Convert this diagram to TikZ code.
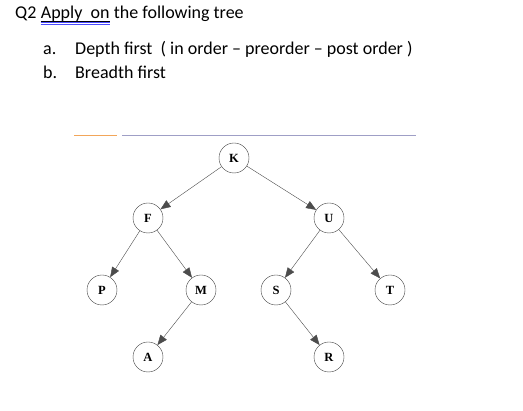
\documentclass[tikz,border=0pt]{standalone}
\usepackage{fontspec}
\setmainfont{Carlito}
\newfontfamily\treefont{Liberation Serif}
\usetikzlibrary{positioning}
\usetikzlibrary{arrows.meta}
\tikzset{
    mynode/.style = {circle, draw=black!75, thin, minimum size=30pt, inner sep=0pt, fill=white, font=\treefont\bfseries\fontsize{12.5}{13}\selectfont},
    edgen/.style = {-{Triangle[length=10pt,width=8pt]}, black!70, thin},
    qtext/.style = {anchor=base west, inner sep=0pt, font=\fontsize{18}{21}\selectfont},
    rulegray/.style = {draw=blue!25!gray!60, line width=0.8pt},
    ruleorange/.style = {draw=orange!70!brown!70, line width=0.8pt}
}

\begin{document}
\begin{tikzpicture}[x=1pt,y=-1pt]
\useasboundingbox (0,0) rectangle (523,411);
%
\node[qtext] at (15,19) (q2) {Q2};
\node[qtext, right=4pt of q2.base east, anchor=base west] (apply) {Apply\ \ on};
\node[qtext, right=4pt of apply.base east, anchor=base west] (rest) {the following tree};
\draw[black, line width=0.6pt] ([yshift=-2pt]apply.base west) -- ([yshift=-2pt]apply.base east);
\draw[blue!70, line width=0.5pt] ([yshift=-3.5pt]apply.base west) -- ([yshift=-3.5pt]apply.base east);
\draw[blue!70, line width=0.5pt] ([yshift=-5pt]apply.base west) -- ([yshift=-5pt]apply.base east);
\node[qtext] at (43,55) (ia) {a.};
\node[qtext] at (75,55) (ta) {Depth first\ \ ( in order -- preorder -- post order )};
\node[qtext] at (43,79) (ib) {b.};
\node[qtext] at (75,79) (tb) {Breadth first};
%
\draw[ruleorange] (74,135) -- (117,135);
\draw[rulegray] (122,135) -- (416,135);
%
\node[mynode] at (234,158) (k) {K};
\node[mynode] at (148,218) (f) {F};
\node[mynode] at (329,218) (u) {U};
\node[mynode] at (102,290) (p) {P};
\node[mynode] at (201,290) (m) {M};
\node[mynode] at (276,290) (s) {S};
\node[mynode] at (390,290) (t) {T};
\node[mynode] at (148,357) (a) {A};
\node[mynode] at (329,357) (r) {R};
%
\draw[edgen] (k) -- (f);
\draw[edgen] (k) -- (u);
\draw[edgen] (f) -- (p);
\draw[edgen] (f) -- (m);
\draw[edgen] (m) -- (a);
\draw[edgen] (u) -- (s);
\draw[edgen] (u) -- (t);
\draw[edgen] (s) -- (r);

\end{tikzpicture}
\end{document}
